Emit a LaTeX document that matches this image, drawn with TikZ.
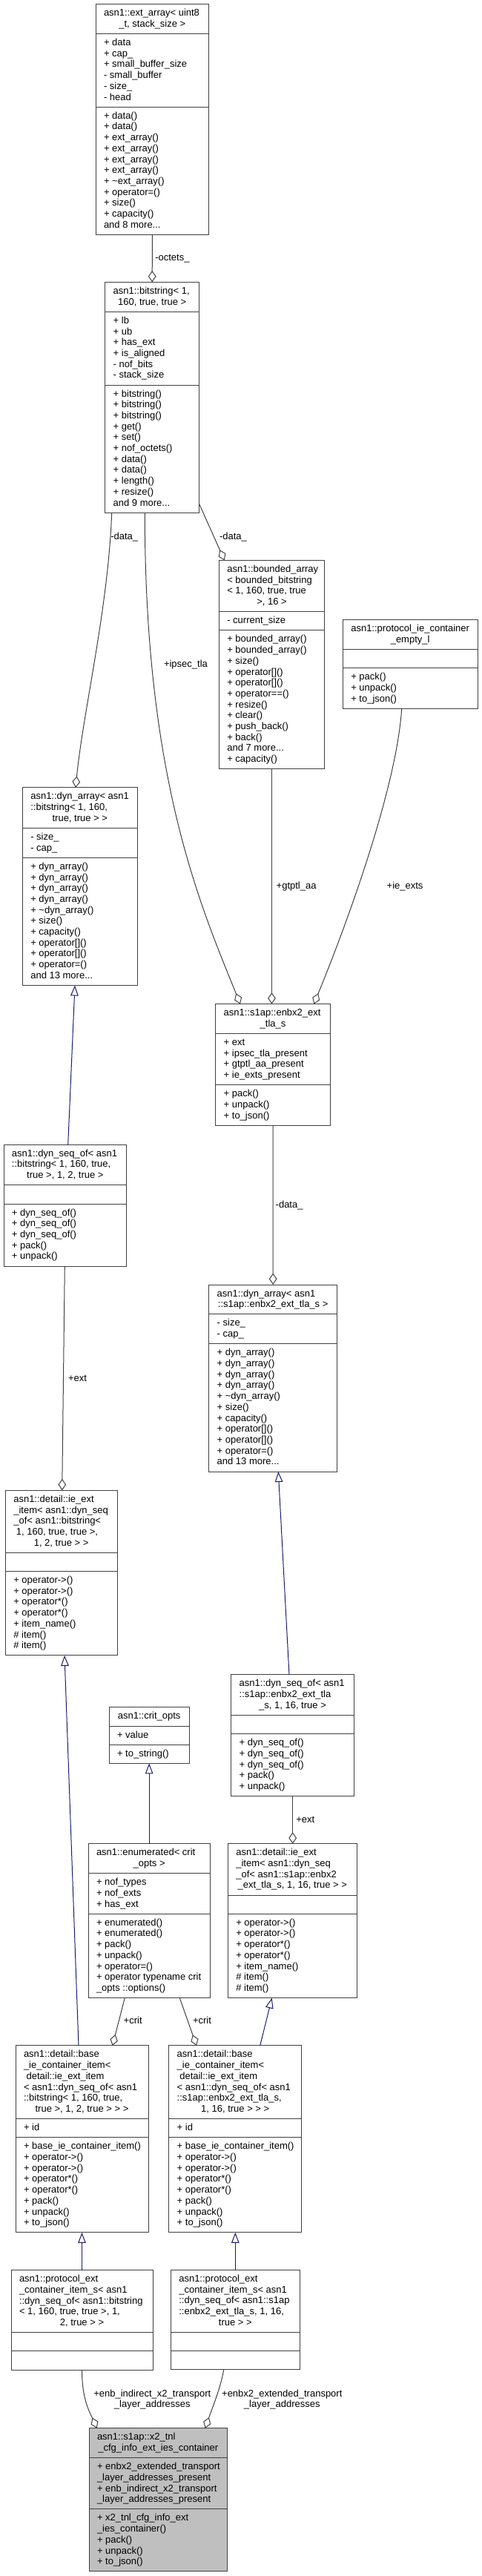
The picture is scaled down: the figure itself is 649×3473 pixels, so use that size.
\documentclass[tikz,border=0pt]{standalone}
\usepackage{fontspec}
\setmainfont{Liberation Sans}
\usetikzlibrary{arrows.meta,calc}
\definecolor{edgegray}{HTML}{404040}
\definecolor{inhblue}{HTML}{191970}
\definecolor{mainfill}{HTML}{BFBFBF}
\newcommand\mydots{...}
\newcommand\cls[8]{%
  \def\cname{#1}%
  \pgfmathsetmacro\cxl{#2}%
  \pgfmathsetmacro\cxr{#3}%
  \pgfmathsetmacro\cyt{#4}%
  \pgfmathsetmacro\cya{#4+14.7*#5+10.5}%
  \pgfmathsetmacro\cym{\cya+14.7*#6+10.5}%
  \pgfmathsetmacro\cyb{\cym+14.7*#7+10.5}%
  \pgfmathsetmacro\cw{#3-#2}%
  \pgfmathsetmacro\ch{\cyb-#4}%
  \pgfmathsetmacro\cxm{(#2+#3)/2}%
  \node[classbox,fill=#8,minimum width=\cw pt,minimum height=\ch pt] (#1) at (\cxl,\cyt) {};%
  \draw[divline] (\cxl,\cya) -- (\cxr,\cya);%
  \draw[divline] (\cxl,\cym) -- (\cxr,\cym);%
}
\newcommand\hdr[2]{%
  \def\hdrtmp{#1}%
  \ifx\hdrtmp\empty
    \gdef\lastI{0}%
  \else
    \foreach \lineT [count=\nn] in {#1}{%
      \node[txt,anchor=base west] (\cname-h\nn) at ({\cxl+11},{\cyt+16+(\nn-1)*14.7}) {\lineT};%
      \xdef\lastI{\nn}}%
  \fi
  \node[txt,anchor=base] (\cname-hl) at (\cxm,{\cyt+16+\lastI*14.7}) {#2};%
}
\newcommand\att[1]{\foreach \lineT [count=\nn] in {#1}{\node[txt,anchor=base west] (\cname-a\nn) at ({\cxl+11},{\cya+16+(\nn-1)*14.7}) {\lineT};}}
\newcommand\met[1]{\foreach \lineT [count=\nn] in {#1}{\node[txt,anchor=base west] (\cname-m\nn) at ({\cxl+11},{\cym+16+(\nn-1)*14.7}) {\lineT};}}
\tikzset{
  classbox/.style={draw=edgegray,line width=1pt,inner sep=0pt,outer sep=0pt,anchor=north west},
  divline/.style={draw=edgegray,line width=1pt},
  txt/.style={font=\fontsize{13}{14.7}\selectfont,inner sep=0pt,outer sep=0pt,text=black},
  lbl/.style={txt},
  agg/.style={draw=edgegray,line width=1pt,-{Diamond[open,length=15.4pt,width=10.7pt]}},
  inh/.style={draw=inhblue,line width=1pt,-{Triangle[open,length=14pt,width=10.5pt]}}
}
\begin{document}
\begin{tikzpicture}[x=1pt,y=-1pt]
\useasboundingbox (0,0) rectangle (649,3473);

\cls{ext}{129}{281.7}{5.7}{2}{6}{11}{white}
\hdr{{asn1::ext\_array< uint8}}{\_t, stack\_size >}
\att{{+ data},{+ cap\_},{+ small\_buffer\_size},{- small\_buffer},{- size\_},{- head}}
\met{{+ data()},{+ data()},{+ ext\_array()},{+ ext\_array()},{+ ext\_array()},{+ ext\_array()},{+ \textasciitilde ext\_array()},{+ operator=()},{+ size()},{+ capacity()},{and 8 more\mydots}}

\cls{bits}{141.7}{268.7}{380.4}{2}{6}{11}{white}
\hdr{{asn1::bitstring< 1,}}{160, true, true >}
\att{{+ lb},{+ ub},{+ has\_ext},{+ is\_aligned},{- nof\_bits},{- stack\_size}}
\met{{+ bitstring()},{+ bitstring()},{+ bitstring()},{+ get()},{+ set()},{+ nof\_octets()},{+ data()},{+ data()},{+ length()},{+ resize()},{and 9 more\mydots}}

\cls{barr}{295.3}{437.7}{755.4}{4}{1}{12}{white}
\hdr{{asn1::bounded\_array},{< bounded\_bitstring},{< 1, 160, true, true}}{>, 16 >}
\att{{- current\_size}}
\met{{+ bounded\_array()},{+ bounded\_array()},{+ size()},{+ operator[]()},{+ operator[]()},{+ operator==()},{+ resize()},{+ clear()},{+ push\_back()},{+ back()},{and 7 more\mydots},{+ capacity()}}

\cls{empty}{462.3}{644}{835.7}{2}{1}{3}{white}
\hdr{{asn1::protocol\_ie\_container}}{\_empty\_l}
\met{{+ pack()},{+ unpack()},{+ to\_json()}}

\cls{dynL}{30.3}{185.3}{1061.8}{3}{2}{11}{white}
\hdr{{asn1::dyn\_array< asn1},{::bitstring< 1, 160,}}{true, true > >}
\att{{- size\_},{- cap\_}}
\met{{+ dyn\_array()},{+ dyn\_array()},{+ dyn\_array()},{+ dyn\_array()},{+ \textasciitilde dyn\_array()},{+ size()},{+ capacity()},{+ operator[]()},{+ operator[]()},{+ operator=()},{and 13 more\mydots}}

\cls{enbx}{290.7}{445.3}{1353.6}{2}{4}{3}{white}
\hdr{{asn1::s1ap::enbx2\_ext}}{\_tla\_s}
\att{{+ ext},{+ ipsec\_tla\_present},{+ gtptl\_aa\_present},{+ ie\_exts\_present}}
\met{{+ pack()},{+ unpack()},{+ to\_json()}}

\cls{seqL}{5}{170.7}{1543.2}{3}{1}{5}{white}
\hdr{{asn1::dyn\_seq\_of< asn1},{::bitstring< 1, 160, true,}}{true >, 1, 2, true >}
\met{{+ dyn\_seq\_of()},{+ dyn\_seq\_of()},{+ dyn\_seq\_of()},{+ pack()},{+ unpack()}}

\cls{dynR}{281.7}{454.7}{1732}{2}{2}{11}{white}
\hdr{{asn1::dyn\_array< asn1}}{::s1ap::enbx2\_ext\_tla\_s >}
\att{{- size\_},{- cap\_}}
\met{{+ dyn\_array()},{+ dyn\_array()},{+ dyn\_array()},{+ dyn\_array()},{+ \textasciitilde dyn\_array()},{+ size()},{+ capacity()},{+ operator[]()},{+ operator[]()},{+ operator=()},{and 13 more\mydots}}

\cls{ieL}{7.3}{158}{2009.3}{5}{1}{7}{white}
\hdr{{asn1::detail::ie\_ext},{\_item< asn1::dyn\_seq},{\_of< asn1::bitstring<},{\ 1, 160, true, true >,}}{1, 2, true > >}
\met{{+ operator->()},{+ operator->()},{+ operator*()},{+ operator*()},{+ item\_name()},{\# item()},{\# item()}}

\cls{seqR}{311.7}{477.3}{2257.9}{3}{1}{5}{white}
\hdr{{asn1::dyn\_seq\_of< asn1},{::s1ap::enbx2\_ext\_tla}}{\_s, 1, 16, true >}
\met{{+ dyn\_seq\_of()},{+ dyn\_seq\_of()},{+ dyn\_seq\_of()},{+ pack()},{+ unpack()}}

\cls{crit}{147}{255.3}{2301.8}{1}{1}{1}{white}
\hdr{}{asn1::crit\_opts}
\att{{+ value}}
\met{{+ to\_string()}}

\cls{enum}{119}{283.3}{2485.7}{2}{3}{7}{white}
\hdr{{asn1::enumerated< crit}}{\_opts >}
\att{{+ nof\_types},{+ nof\_exts},{+ has\_ext}}
\met{{+ enumerated()},{+ enumerated()},{+ pack()},{+ unpack()},{+ operator=()},{+ operator typename crit},{\_opts ::options()}}

\cls{ieR}{307.3}{481.3}{2485.7}{4}{1}{7}{white}
\hdr{{asn1::detail::ie\_ext},{\_item< asn1::dyn\_seq},{\_of< asn1::s1ap::enbx2}}{\_ext\_tla\_s, 1, 16, true > >}
\met{{+ operator->()},{+ operator->()},{+ operator*()},{+ operator*()},{+ item\_name()},{\# item()},{\# item()}}

\cls{baseL}{21}{200}{2757.9}{6}{1}{8}{white}
\hdr{{asn1::detail::base},{\_ie\_container\_item<},{\ detail::ie\_ext\_item},{< asn1::dyn\_seq\_of< asn1},{::bitstring< 1, 160, true,}}{true >, 1, 2, true > > >}
\att{{+ id}}
\met{{+ base\_ie\_container\_item()},{+ operator->()},{+ operator->()},{+ operator*()},{+ operator*()},{+ pack()},{+ unpack()},{+ to\_json()}}

\cls{baseR}{227.7}{406.7}{2757.9}{6}{1}{8}{white}
\hdr{{asn1::detail::base},{\_ie\_container\_item<},{\ detail::ie\_ext\_item},{< asn1::dyn\_seq\_of< asn1},{::s1ap::enbx2\_ext\_tla\_s,}}{1, 16, true > > >}
\att{{+ id}}
\met{{+ base\_ie\_container\_item()},{+ operator->()},{+ operator->()},{+ operator*()},{+ operator*()},{+ pack()},{+ unpack()},{+ to\_json()}}

\cls{protL}{15}{206}{3060.7}{5}{1}{1}{white}
\hdr{{asn1::protocol\_ext},{\_container\_item\_s< asn1},{::dyn\_seq\_of< asn1::bitstring},{< 1, 160, true, true >, 1,}}{2, true > >}

\cls{protR}{230.3}{404.3}{3060.5}{5}{1}{1}{white}
\hdr{{asn1::protocol\_ext},{\_container\_item\_s< asn1},{::dyn\_seq\_of< asn1::s1ap},{::enbx2\_ext\_tla\_s, 1, 16,}}{true > >}

\cls{main}{120}{306.7}{3273.7}{2}{4}{5}{mainfill}
\hdr{{asn1::s1ap::x2\_tnl}}{\_cfg\_info\_ext\_ies\_container}
\att{{+ enbx2\_extended\_transport},{\_layer\_addresses\_present},{+ enb\_indirect\_x2\_transport},{\_layer\_addresses\_present}}
\met{{+ x2\_tnl\_cfg\_info\_ext},{\_ies\_container()},{+ pack()},{+ unpack()},{+ to\_json()}}

% connectors
\draw[agg] (ext.south) -- (bits.north);
\draw[agg] ($(bits.south west)+(9,0)$) .. controls (146,820) and (112,960) .. ($(dynL.north west)+(71.7,0)$);
\draw[agg] ($(bits.south west)+(53.6,0)$) .. controls (195.3,1050) and (270,1220) .. ($(enbx.north west)+(33.3,0)$);
\draw[agg] ($(bits.south east)+(0,-11.7)$) -- ($(barr.north west)+(7.4,0)$);
\draw[agg] (barr.south) -- (barr.south |- enbx.north);
\draw[agg] ($(empty.south west)+(79.4,0)$) .. controls (535,1060) and (470,1240) .. ($(enbx.north west)+(132.6,0)$);
\draw[agg] (enbx.south) -- (dynR.north);
\draw[inh] ($(seqL.north west)+(86.7,0)$) -- ($(dynL.south west)+(70.7,0)$);
\draw[agg] ($(seqL.south west)+(82.3,0)$) -- ($(ieL.north west)+(76.4,0)$);
\draw[inh] ($(baseL.north west)+(85,0)$) -- ($(ieL.south west)+(79.7,0)$);
\draw[inh] (enum.north) -- (crit.south);
\draw[inh] ($(seqR.north west)+(78.3,0)$) -- ($(dynR.south west)+(93.6,0)$);
\draw[agg] ($(seqR.south west)+(83,0)$) -- ($(ieR.north west)+(87.4,0)$);
\draw[inh] ($(baseR.north west)+(123,0)$) -- ($(ieR.south west)+(59.4,0)$);
\draw[agg] ($(enum.south west)+(49.3,0)$) -- ($(baseL.north west)+(130.7,0)$);
\draw[agg] ($(enum.south west)+(123.3,0)$) -- ($(baseR.north west)+(37.3,0)$);
\draw[inh] (protL.north) -- (protL.north |- baseL.south);
\draw[inh] (protR.north) -- (protR.north |- baseR.south);
\draw[agg] (protL.south) .. controls (110.5,3235) and (121,3252) .. ($(main.north west)+(10.7,0)$);
\draw[agg] ($(protR.south west)+(71.4,0)$) .. controls (298,3218) and (285,3250) .. ($(main.north west)+(156.7,0)$);

% connector labels
\node[lbl,anchor=base west] (l1) at (209.3,351.8) {-octets\_};
\node[lbl,anchor=base west] (l2) at (149.3,727.4) {-data\_};
\node[lbl,anchor=base west] (l3) at (296,727.4) {-data\_};
\node[lbl,anchor=base west] (l4) at (221,899) {+ipsec\_tla};
\node[lbl,anchor=base west] (l5) at (372.7,1198.8) {+gtptl\_aa};
\node[lbl,anchor=base west] (l6) at (521.7,1198.8) {+ie\_exts};
\node[lbl,anchor=base west] (l7) at (371.7,1628.8) {-data\_};
\node[lbl,anchor=base west] (l8) at (92,1862) {+ext};
\node[lbl,anchor=base west] (l9) at (399.3,2457) {+ext};
\node[lbl,anchor=base west] (l10) at (166.7,2728.8) {+crit};
\node[lbl,anchor=base west] (l11) at (260,2728.8) {+crit};
\node[lbl,anchor=base] (l12a) at (205.3,3231.1) {+enb\_indirect\_x2\_transport};
\node[lbl,anchor=base] (l12b) at (205.3,3245) {\_layer\_addresses};
\node[lbl,anchor=base] (l13a) at (380.3,3231.1) {+enbx2\_extended\_transport};
\node[lbl,anchor=base] (l13b) at (380.3,3245) {\_layer\_addresses};
\end{tikzpicture}
\end{document}
